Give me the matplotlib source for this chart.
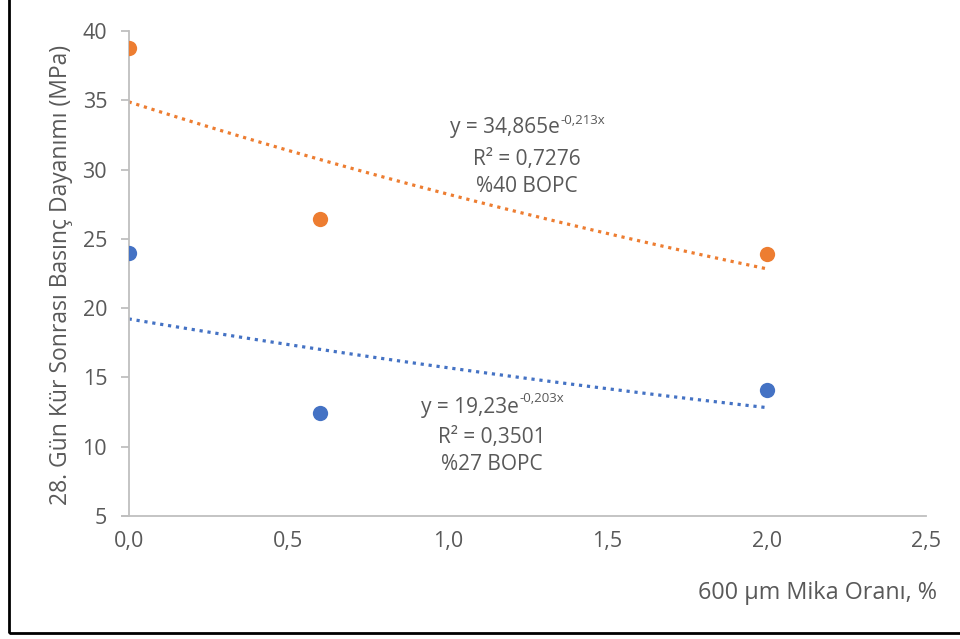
import numpy as np
import matplotlib
matplotlib.use("Agg")
import matplotlib.pyplot as plt
from matplotlib.patches import Rectangle

# Data
mika = [0.0, 0.6, 2.0]
bopc40 = [38.8, 26.4, 23.9]
bopc27 = [24.0, 12.4, 14.1]
x_ticks = [0.0, 0.5, 1.0, 1.5, 2.0, 2.5]
x_ticklabels = ["0,0", "0,5", "1,0", "1,5", "2,0", "2,5"]
y_ticks = [5, 10, 15, 20, 25, 30, 35, 40]
eq40 = [("y = 34,865e", "-0,213x"), "R² = 0,7276", "%40 BOPC"]
eq27 = [("y = 19,23e", "-0,203x"), "R² = 0,3501", "%27 BOPC"]

ORANGE = "#ED7D31"
BLUE = "#4472C4"
GRAY = "#595959"
AXG = "#BFBFBF"
FONT = ["Open Sans", "DejaVu Sans"]
plt.rcParams["font.family"] = FONT

fig = plt.figure(figsize=(9.6, 6.39), dpi=100)
ax = fig.add_axes([0.134, 0.1925, 0.831, 0.759])

def exp_fit(x, y):
    b, lna = np.polyfit(np.array(x), np.log(np.array(y)), 1)
    return np.exp(lna), b

xs = np.linspace(0, 2.0, 100)
for yv, col in [(bopc40, ORANGE), (bopc27, BLUE)]:
    a, b = exp_fit(mika, yv)
    ax.plot(xs, a * np.exp(b * xs), linestyle=(0, (1, 1.5)), color=col, lw=2.3, zorder=2)
    ax.plot(mika, yv, "o", color=col, ms=11, zorder=3, markeredgewidth=0)

ax.set_xlim(0, 2.5)
ax.set_ylim(5, 40)
ax.set_xticks(x_ticks)
ax.set_xticklabels(x_ticklabels)
ax.set_yticks(y_ticks)
for s in ["top", "right"]:
    ax.spines[s].set_visible(False)
for s in ["left", "bottom"]:
    ax.spines[s].set_color(AXG)
    ax.spines[s].set_linewidth(1.3)
ax.tick_params(axis="y", direction="out", length=5.5, width=1.3, color=AXG,
               labelsize=15.5, labelcolor=GRAY, pad=10)
ax.tick_params(axis="x", length=0, labelsize=15.5, labelcolor=GRAY, pad=11)
ax.spines["bottom"].set_bounds(-0.02, 2.5)
ax.spines["bottom"].set_clip_on(False)

fig.text(61 / 960, 1 - 275 / 639, "28. Gün Kür Sonrası Basınç Dayanımı (MPa)", fontsize=16.5,
         color=GRAY, rotation=90, ha="center", va="center")
fig.text(818 / 960, 1 - 593 / 639, "600 µm Mika Oranı, %", fontsize=16.8, color=GRAY,
         ha="center", va="center")

fig.canvas.draw()
renderer = fig.canvas.get_renderer()
W, H = fig.bbox.width, fig.bbox.height
EQ_FS = 15
for lines, cx, ys in [(eq40, 527, [128, 159, 187]), (eq27, 492, [407, 437, 465])]:
    for t, yy in zip(lines, ys):
        if isinstance(t, tuple):
            base = fig.text(0, 1 - yy / 639, t[0], fontsize=EQ_FS, color=GRAY, ha="left", va="center")
            sup = fig.text(0, 1 - (yy - 8) / 639, t[1], fontsize=9.5, color=GRAY, ha="left", va="center")
            wb = base.get_window_extent(renderer).width
            ws = sup.get_window_extent(renderer).width
            left = cx - (wb + ws) / 2
            base.set_x(left / W)
            sup.set_x((left + wb + 1) / W)
        else:
            fig.text(cx / 960, 1 - yy / 639, t, fontsize=EQ_FS, color=GRAY, ha="center", va="center")

fig.patches.append(Rectangle((9 / 960, 6 / 639), 1.2, 1.2, transform=fig.transFigure,
                             fill=False, edgecolor="black", lw=2, figure=fig))

fig.savefig("out.png", dpi=100)
